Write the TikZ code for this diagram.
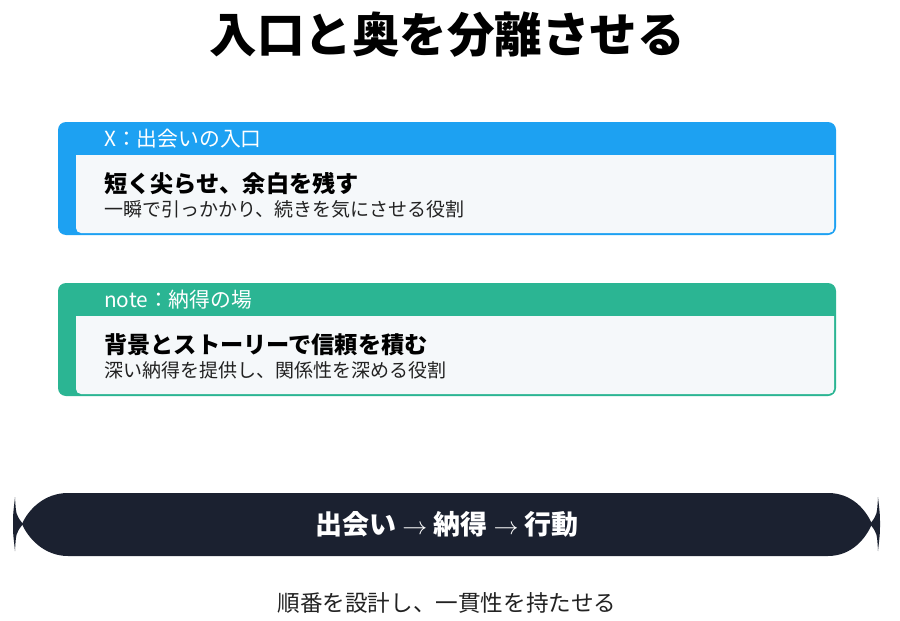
\documentclass[tikz,border=0pt]{standalone}
\usepackage{fontspec}
\setmainfont{Noto Sans CJK JP}
\definecolor{xblue}{HTML}{1DA1F2}
\definecolor{ngreen}{HTML}{2BB593}
\definecolor{innerbg}{HTML}{F5F8FA}
\definecolor{bannerbg}{HTML}{1B2130}
\definecolor{subtxt}{HTML}{222222}
\tikzset{
  hdrtext/.style={anchor=west, text=white, font=\fontsize{20.8}{24}\selectfont, inner sep=0pt},
  ttltext/.style={anchor=west, text=black, font=\fontsize{23.2}{27}\selectfont\bfseries, inner sep=0pt},
  subtext/.style={anchor=west, text=subtxt, font=\fontsize{19}{22}\selectfont, inner sep=0pt},
}
\begin{document}
\begin{tikzpicture}[x=1pt,y=-1pt]
\useasboundingbox (0,0) rectangle (900,621);
\fill[white] (0,0) rectangle (900,621);

% title
\node[font=\fontsize{47.5}{52}\selectfont\bfseries, inner sep=0pt] (title) at (447,35) {入口と奥を分離させる};

% card 1
\fill[xblue, rounded corners=8] (58,122) rectangle (836,235);
\fill[innerbg] (76,155) -- (834,155) [rounded corners=5] -- (834,233) -- (76,233) [sharp corners] -- cycle;
\node[hdrtext] (h1) at (104,139) {X：出会いの入口};
\node[ttltext] (t1) at (104,184) {短く尖らせ、余白を残す};
\node[subtext] (s1) at (104,209) {一瞬で引っかかり、続きを気にさせる役割};

% card 2
\fill[ngreen, rounded corners=8] (58,283) rectangle (836,396);
\fill[innerbg] (76,316) -- (834,316) [rounded corners=5] -- (834,394) -- (76,394) [sharp corners] -- cycle;
\node[hdrtext] (h2) at (104,300) {note：納得の場};
\node[ttltext] (t2) at (104,345) {背景とストーリーで信頼を積む};
\node[subtext] (s2) at (104,370) {深い納得を提供し、関係性を深める役割};

% banner
\fill[bannerbg] (68,493) -- (828,493) .. controls (852,493) and (866,510) .. (872,524)
  .. controls (866,538) and (852,556) .. (828,556) -- (68,556)
  .. controls (44,556) and (28,538) .. (22,524)
  .. controls (28,510) and (44,493) .. (68,493) -- cycle;
\fill[bannerbg] (15,497) .. controls (16,515) .. (23,524) .. controls (16,533) .. (15,551)
  .. controls (13,533) .. (13,524) .. controls (13,515) .. (15,497) -- cycle;
\fill[bannerbg] (878,497) .. controls (877,515) .. (870,524) .. controls (877,533) .. (878,551)
  .. controls (880,533) .. (880,524) .. controls (880,515) .. (878,497) -- cycle;
\node[text=white, font=\fontsize{27}{32}\selectfont\bfseries, inner sep=0pt] (flow) at (447,524)
  {出会い {\mdseries$\rightarrow$} 納得 {\mdseries$\rightarrow$} 行動};

% bottom caption
\node[text=subtxt, font=\fontsize{22.6}{27}\selectfont, inner sep=0pt] (cap) at (447,603) {順番を設計し、一貫性を持たせる};
\end{tikzpicture}
\end{document}
